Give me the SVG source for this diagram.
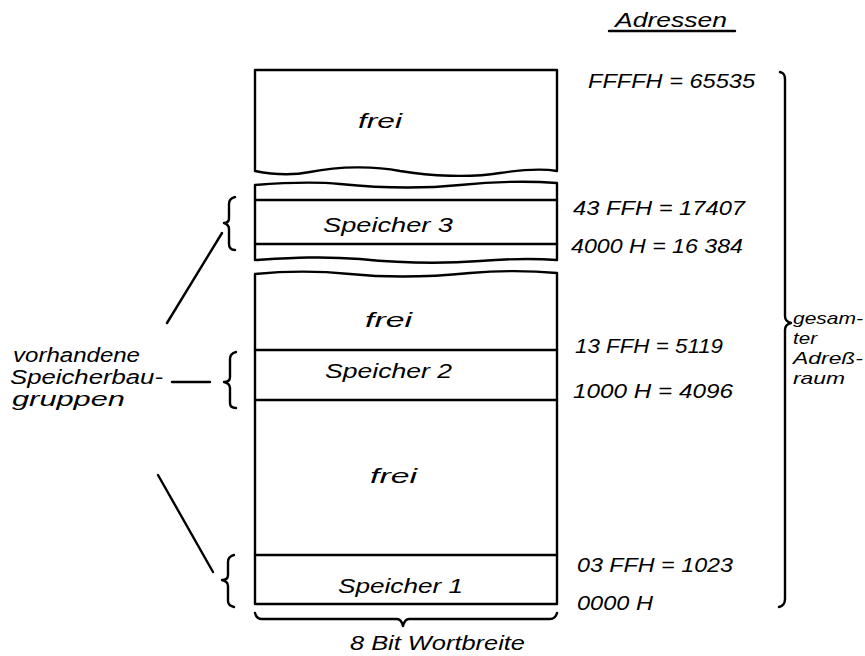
<svg xmlns="http://www.w3.org/2000/svg" width="865" height="656" viewBox="0 0 865 656">
<style>
.ln{fill:none;stroke:#000;stroke-width:2.4;stroke-linecap:round;stroke-linejoin:round}
.tx{font-family:"Liberation Sans","DejaVu Sans",Arial,sans-serif;font-style:italic;font-size:20px;fill:#000}
.ad{font-size:21px}
.sm{font-size:17px}
</style>
<rect width="865" height="656" fill="#fff"/>
<g id="block-frei-top">
<path class="ln" d="M255,171 L255,70 L557,70 L557,171 C540,168 520,170 500,173 C470,178 430,176 400,171 C375,166 340,166 310,172 C290,176 270,174 255,171"/>
<text class="tx" x="358" y="128" textLength="44" lengthAdjust="spacingAndGlyphs">frei</text>
</g>
<g id="block-speicher3">
<path class="ln" d="M255,260 L255,185 C280,183 310,181 340,184 C380,188 420,189 460,185 C500,181 530,181 557,183 L557,260 C530,258 505,259 480,261 C440,264 400,263 360,259 C320,256 290,258 255,260"/>
<path class="ln" d="M255,200 L557,200 M255,244 L557,244"/>
<text class="tx" x="323" y="232" textLength="130" lengthAdjust="spacingAndGlyphs">Speicher 3</text>
</g>
<g id="block-frei-mid">
<path class="ln" d="M255,350 L255,274 C285,271 320,271 350,274 C390,278 430,277 470,273 C505,270 535,271 557,273 L557,350"/>
<text class="tx" x="365" y="327" textLength="47" lengthAdjust="spacingAndGlyphs">frei</text>
</g>
<g id="block-speicher2">
<path class="ln" d="M255,350 L557,350 M255,350 L255,400 M557,350 L557,400 M255,400 L557,400"/>
<text class="tx" x="325" y="378" textLength="127" lengthAdjust="spacingAndGlyphs">Speicher 2</text>
</g>
<g id="block-frei-low">
<path class="ln" d="M255,400 L255,555 M557,400 L557,555"/>
<text class="tx" x="370" y="483" textLength="47" lengthAdjust="spacingAndGlyphs">frei</text>
</g>
<g id="block-speicher1">
<path class="ln" d="M255,555 L557,555 M255,555 L255,604 L557,604 L557,555"/>
<text class="tx" x="338" y="593" textLength="125" lengthAdjust="spacingAndGlyphs">Speicher 1</text>
</g>
<g id="wordwidth">
<path class="ln" d="M255,613 C256,617 258,619 262,619 L397,619 C400,619 402,622 403,626 C404,622 406,619 409,619 L550,619 C554,619 556,617 557,613"/>
<text class="tx" x="350" y="650" textLength="175" lengthAdjust="spacingAndGlyphs">8 Bit Wortbreite</text>
</g>
<g id="addresses">
<text class="tx" x="615" y="27" textLength="112" lengthAdjust="spacingAndGlyphs">Adressen</text>
<path class="ln" d="M609,31 L735,31"/>
<text class="tx ad" x="588" y="88" textLength="167" lengthAdjust="spacingAndGlyphs">FFFFH = 65535</text>
<text class="tx ad" x="573" y="215" textLength="172" lengthAdjust="spacingAndGlyphs">43 FFH = 17407</text>
<text class="tx ad" x="571" y="253" textLength="172" lengthAdjust="spacingAndGlyphs">4000 H = 16 384</text>
<text class="tx ad" x="575" y="353" textLength="148" lengthAdjust="spacingAndGlyphs">13 FFH = 5119</text>
<text class="tx ad" x="573" y="398" textLength="160" lengthAdjust="spacingAndGlyphs">1000 H = 4096</text>
<text class="tx ad" x="577" y="572" textLength="156" lengthAdjust="spacingAndGlyphs">03 FFH = 1023</text>
<text class="tx ad" x="577" y="610" textLength="76" lengthAdjust="spacingAndGlyphs">0000 H</text>
</g>
<g id="address-space">
<path class="ln" d="M780,72 C784,73 785,75 785,80 L785,316 C785,320 787,322 791,323 C787,324 785,326 785,330 L785,599 C785,604 783,606 779,607"/>
<text class="tx sm" x="793" y="324" textLength="70" lengthAdjust="spacingAndGlyphs">gesam-</text>
<text class="tx sm" x="793" y="344" textLength="24" lengthAdjust="spacingAndGlyphs">ter</text>
<text class="tx sm" x="793" y="364" textLength="70" lengthAdjust="spacingAndGlyphs">Adreß-</text>
<text class="tx sm" x="793" y="384" textLength="52" lengthAdjust="spacingAndGlyphs">raum</text>
</g>
<g id="memory-groups">
<text class="tx" x="13" y="362" textLength="127" lengthAdjust="spacingAndGlyphs">vorhandene</text>
<text class="tx" x="10" y="384" textLength="153" lengthAdjust="spacingAndGlyphs">Speicherbau-</text>
<text class="tx" x="12" y="406" textLength="113" lengthAdjust="spacingAndGlyphs">gruppen</text>
<path class="ln" d="M235,197 C231,198 229,200 229,204 L229,218 C229,221 227,223 224,223 C227,224 229,226 229,229 L229,244 C229,248 231,250 235,250"/>
<path class="ln" d="M236,352 C232,353 230,355 230,359 L230,377 C230,380 228,382 224,382 C228,383 230,385 230,388 L230,403 C230,406 232,408 236,408"/>
<path class="ln" d="M234,555 C230,556 228,558 228,562 L228,575 C228,578 226,580 222,580 C226,581 228,583 228,586 L228,601 C228,604 230,606 234,607"/>
</g>
<g id="connectors">
<path class="ln" d="M167,323 L222,233"/>
<path class="ln" d="M172,382 L210,382"/>
<path class="ln" d="M158,475 L213,572"/>
</g>
</svg>
